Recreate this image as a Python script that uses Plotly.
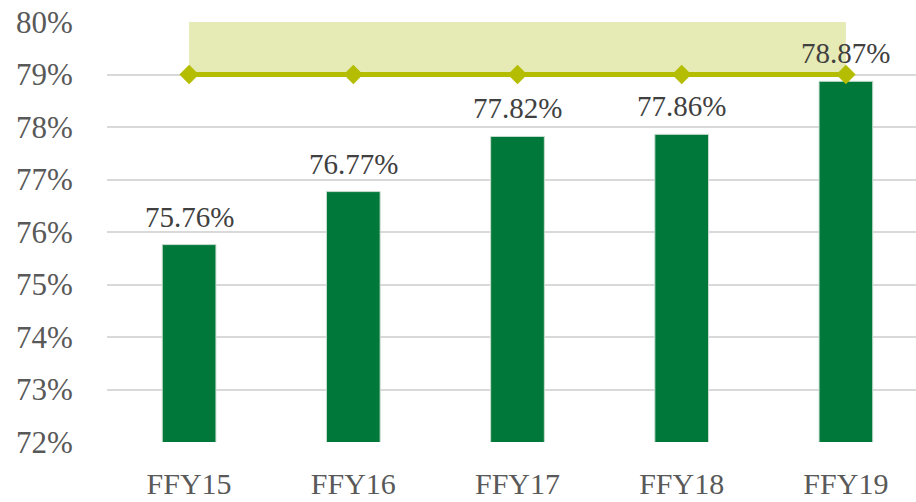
import plotly.graph_objects as go

categories = ["FFY15", "FFY16", "FFY17", "FFY18", "FFY19"]
rates = [75.76, 76.77, 77.82, 77.86, 78.87]
target = [79, 79, 79, 79, 79]
band_top = [80, 80, 80, 80, 80]
y_ticks = [72, 73, 74, 75, 76, 77, 78, 79, 80]
y_tick_labels = [f"{v}%" for v in y_ticks]
rate_labels = [f"{v:.2f}%" for v in rates]

FONT = "'Liberation Serif', 'Times New Roman', serif"
BAR_COLOR = "#00783A"
LINE_COLOR = "#B5BD00"
BAND_COLOR = "#E6EAB5"

fig = go.Figure()

# shaded target band (79% - 80%)
fig.add_trace(go.Scatter(x=categories, y=target, mode="lines",
                         line=dict(width=0, color=BAND_COLOR),
                         hoverinfo="skip", showlegend=False))
fig.add_trace(go.Scatter(x=categories, y=band_top, mode="lines",
                         line=dict(width=0, color=BAND_COLOR),
                         fill="tonexty", fillcolor=BAND_COLOR,
                         hoverinfo="skip", showlegend=False))

fig.add_trace(go.Bar(x=categories, y=rates, width=0.327,
                     marker=dict(color=BAR_COLOR,
                                 line=dict(color="#C9DCCF", width=1)),
                     showlegend=False))

fig.add_trace(go.Scatter(x=categories, y=target, mode="lines+markers",
                         line=dict(color=LINE_COLOR, width=5),
                         marker=dict(symbol="diamond", size=15, color=LINE_COLOR),
                         showlegend=False))

for c, v, t in zip(categories, rates, rate_labels):
    fig.add_annotation(x=c, y=v, text=t, showarrow=False,
                       yanchor="bottom", yshift=10,
                       font=dict(family=FONT, size=29, color="#404040"))

fig.update_layout(
    width=916, height=502,
    margin=dict(l=107, r=0, t=22, b=60, autoexpand=False),
    plot_bgcolor="white", paper_bgcolor="white",
    bargap=0.5,
)
fig.update_xaxes(type="category", range=[-0.5, 4.427], automargin=False,
                 showgrid=False, showline=False, zeroline=False,
                 ticklabeloverflow="allow",
                 ticks="outside", ticklen=15, tickcolor="rgba(0,0,0,0)",
                 tickfont=dict(family=FONT, size=30, color="#595959"))
fig.update_yaxes(range=[72, 80], tickvals=y_ticks, ticktext=y_tick_labels,
                 automargin=False, ticklabeloverflow="allow",
                 showgrid=True, gridcolor="#D9D9D9", gridwidth=1.5,
                 zeroline=False, showline=False,
                 ticks="outside", ticklen=27, tickcolor="rgba(0,0,0,0)",
                 tickfont=dict(family=FONT, size=31, color="#595959"))

fig.write_html("out.html",
               config={"displayModeBar": False},
               post_script="document.body.style.margin='0';")
